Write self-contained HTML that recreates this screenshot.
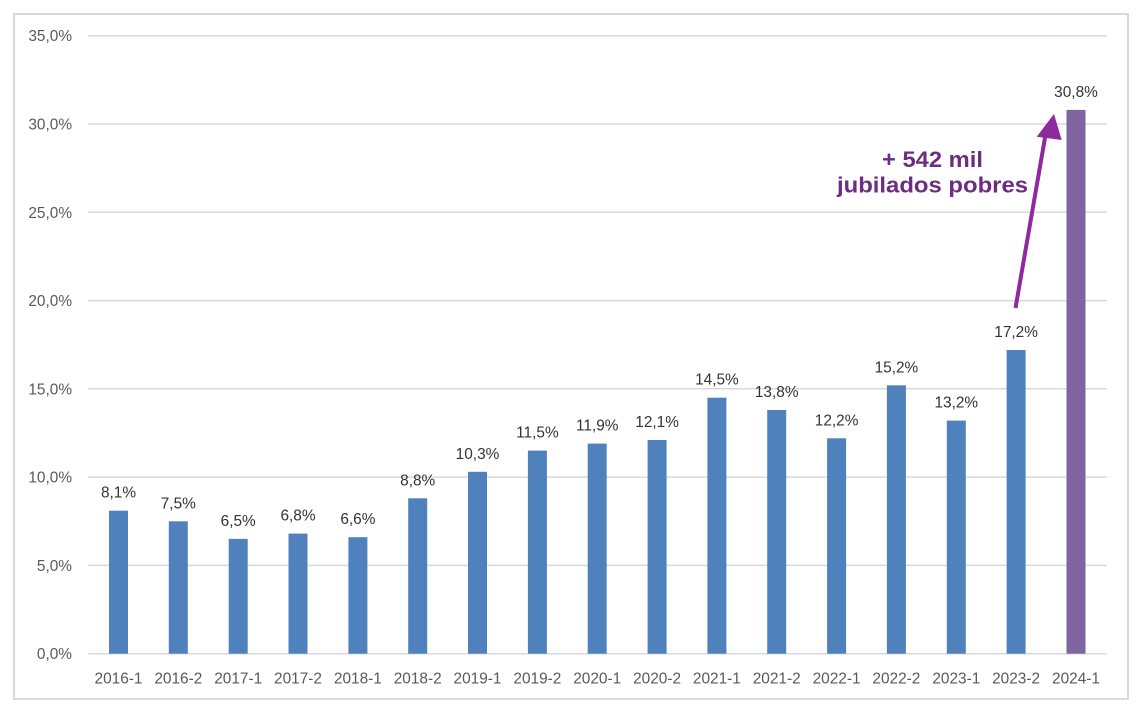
<!DOCTYPE html>
<html>
<head>
<meta charset="utf-8">
<style>
html,body{margin:0;padding:0;background:#fff;}
svg{display:block;}
</style>
</head>
<body>
<svg width="1144" height="722" viewBox="0 0 1144 722" xmlns="http://www.w3.org/2000/svg" font-family="Liberation Sans, Arial, sans-serif">
<rect x="0" y="0" width="1144" height="722" fill="#fff"/>
<rect x="14" y="14" width="1114" height="685" fill="#fff" stroke="#d9d9d9" stroke-width="2"/>
<g stroke="#d9d9d9" stroke-width="1.5">
<line x1="88" y1="35.7" x2="1107" y2="35.7"/>
<line x1="88" y1="124.0" x2="1107" y2="124.0"/>
<line x1="88" y1="212.3" x2="1107" y2="212.3"/>
<line x1="88" y1="300.6" x2="1107" y2="300.6"/>
<line x1="88" y1="388.8" x2="1107" y2="388.8"/>
<line x1="88" y1="477.1" x2="1107" y2="477.1"/>
<line x1="88" y1="565.4" x2="1107" y2="565.4"/>
<line x1="88" y1="653.7" x2="1107" y2="653.7"/>
</g>
<g fill="#595959" font-size="15.4" text-anchor="end">
<text x="72" y="41.2">35,0%</text>
<text x="72" y="129.5">30,0%</text>
<text x="72" y="217.8">25,0%</text>
<text x="72" y="306.1">20,0%</text>
<text x="72" y="394.3">15,0%</text>
<text x="72" y="482.6">10,0%</text>
<text x="72" y="570.9">5,0%</text>
<text x="72" y="659.2">0,0%</text>
</g>
<g fill="#4f81bd">
<rect x="109" y="510.7" width="19" height="143"/>
<rect x="168.8" y="521.3" width="19" height="132.4"/>
<rect x="228.7" y="538.9" width="19" height="114.8"/>
<rect x="288.5" y="533.6" width="19" height="120.1"/>
<rect x="348.4" y="537.2" width="19" height="116.5"/>
<rect x="408.2" y="498.3" width="19" height="155.4"/>
<rect x="468" y="471.8" width="19" height="181.9"/>
<rect x="527.9" y="450.6" width="19" height="203.1"/>
<rect x="587.7" y="443.6" width="19" height="210.1"/>
<rect x="647.6" y="440.0" width="19" height="213.7"/>
<rect x="707.4" y="397.7" width="19" height="256"/>
<rect x="767.2" y="410.0" width="19" height="243.7"/>
<rect x="827.1" y="438.3" width="19" height="215.4"/>
<rect x="886.9" y="385.3" width="19" height="268.4"/>
<rect x="946.8" y="420.6" width="19" height="233.1"/>
<rect x="1006.6" y="350.0" width="19" height="303.7"/>
</g>
<rect x="1066.5" y="109.9" width="19" height="543.8" fill="#8064a2"/>
<g fill="#333333" font-size="15.4" text-anchor="middle">
<text x="118.5" y="497.7">8,1%</text>
<text x="178.3" y="508.3">7,5%</text>
<text x="238.2" y="525.9">6,5%</text>
<text x="298.0" y="520.6">6,8%</text>
<text x="357.9" y="524.2">6,6%</text>
<text x="417.7" y="485.3">8,8%</text>
<text x="477.5" y="458.8">10,3%</text>
<text x="537.4" y="437.6">11,5%</text>
<text x="597.2" y="430.6">11,9%</text>
<text x="657.1" y="427.0">12,1%</text>
<text x="716.9" y="384.7">14,5%</text>
<text x="776.7" y="397.0">13,8%</text>
<text x="836.6" y="425.3">12,2%</text>
<text x="896.4" y="372.3">15,2%</text>
<text x="956.3" y="407.6">13,2%</text>
<text x="1016.1" y="337.0">17,2%</text>
<text x="1076.0" y="96.9">30,8%</text>
</g>
<g fill="#595959" font-size="15.4" text-anchor="middle">
<text x="118.5" y="683.3">2016-1</text>
<text x="178.3" y="683.3">2016-2</text>
<text x="238.2" y="683.3">2017-1</text>
<text x="298.0" y="683.3">2017-2</text>
<text x="357.9" y="683.3">2018-1</text>
<text x="417.7" y="683.3">2018-2</text>
<text x="477.5" y="683.3">2019-1</text>
<text x="537.4" y="683.3">2019-2</text>
<text x="597.2" y="683.3">2020-1</text>
<text x="657.1" y="683.3">2020-2</text>
<text x="716.9" y="683.3">2021-1</text>
<text x="776.7" y="683.3">2021-2</text>
<text x="836.6" y="683.3">2022-1</text>
<text x="896.4" y="683.3">2022-2</text>
<text x="956.3" y="683.3">2023-1</text>
<text x="1016.1" y="683.3">2023-2</text>
<text x="1076.0" y="683.3">2024-1</text>
</g>
<line x1="1015.5" y1="308" x2="1046" y2="132" stroke="#8e2a9e" stroke-width="4"/>
<polygon points="1054,114 1036.7,136.7 1061.7,140" fill="#8e2a9e"/>
<g fill="#6b2c82" font-size="22" font-weight="bold" text-anchor="middle">
<text x="932.5" y="167" textLength="101" lengthAdjust="spacingAndGlyphs">+ 542 mil</text>
<text x="932.5" y="192.5" textLength="191" lengthAdjust="spacingAndGlyphs">jubilados pobres</text>
</g>
</svg>
</body>
</html>
